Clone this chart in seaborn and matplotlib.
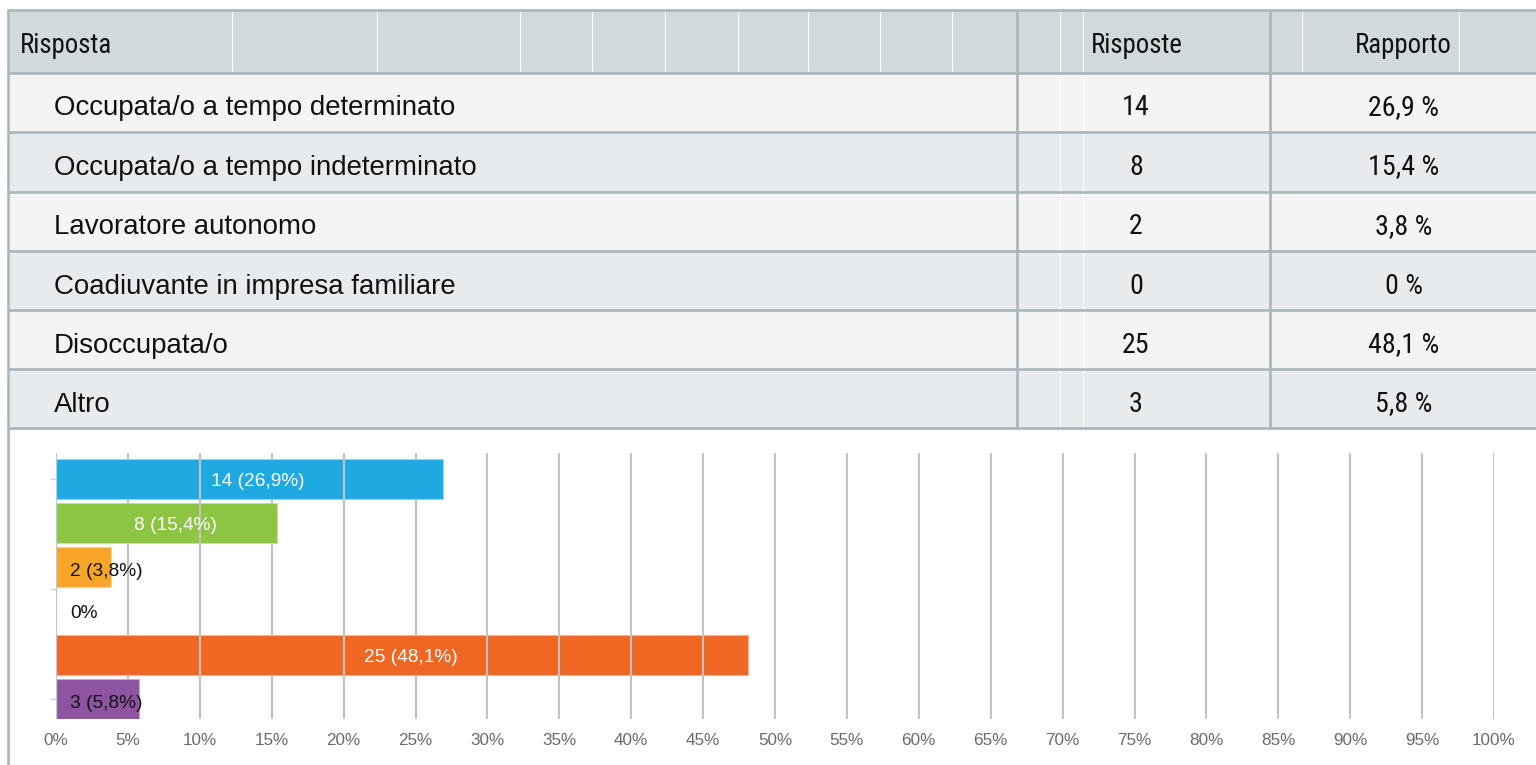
import matplotlib
matplotlib.use("Agg")
import matplotlib.pyplot as plt
from matplotlib import font_manager
from matplotlib.font_manager import FontProperties
from matplotlib.patches import Rectangle
import seaborn as sns
import pandas as pd

# ---- data -------------------------------------------------------------
categories = [
    "Occupata/o a tempo determinato",
    "Occupata/o a tempo indeterminato",
    "Lavoratore autonomo",
    "Coadiuvante in impresa familiare",
    "Disoccupata/o",
    "Altro",
]
counts = [14, 8, 2, 0, 25, 3]
percents = [26.9, 15.4, 3.8, 0.0, 48.1, 5.8]
header_labels = ["Risposta", "Risposte", "Rapporto"]
bar_colors = ["#1fa9e1", "#8bc542", "#f9a527", "#7fb2e5", "#f06724", "#8e54a1"]
x_ticks = list(range(0, 101, 5))
x_tick_labels = [f"{t}%" for t in x_ticks]

# ---- fonts ------------------------------------------------------------
sns.set_style("white")
plt.rcParams["font.family"] = ["Liberation Sans", "DejaVu Sans"]


def pick_condensed():
    """Return the path of an installed condensed sans face, if any."""
    wanted = ["Liberation Sans Narrow", "Roboto Condensed", "Open Sans Condensed",
              "Noto Sans Condensed", "DejaVu Sans Condensed"]
    entries = font_manager.fontManager.ttflist
    for name in wanted:
        for f in entries:
            if f.name == name and f.style == "normal" and f.weight in (400, "normal", "regular"):
                return f.fname
    for f in entries:
        if (f.stretch in ("condensed", "semi-condensed") and f.style == "normal"
                and f.weight in (400, "normal", "regular")):
            return f.fname
    return None


cond_path = pick_condensed()
REG_FP = FontProperties(family="Liberation Sans")
NAR_FP = FontProperties(fname=cond_path) if cond_path else FontProperties(family="Liberation Sans")


def fmt_pct(p, space=""):
    if p == 0:
        return f"0{space}%"
    return f"{p:.1f}".replace(".", ",") + f"{space}%"


W, H = 1536, 765
fig = plt.figure(figsize=(W / 100, H / 100), dpi=100, facecolor="white")
renderer = fig.canvas.get_renderer()


def fit_size(text, fp, target_px, probe=20.0):
    t = fig.text(0, 0, text, fontproperties=fp, fontsize=probe)
    w = t.get_window_extent(renderer=renderer).width
    t.remove()
    return probe * target_px / w


label_size = fit_size(categories[0], REG_FP, 401)
head_size = fit_size(header_labels[1], NAR_FP, 92)
num_size = fit_size(fmt_pct(percents[0], " "), NAR_FP, 71)

# ---- summary table (pixel coordinates) -------------------------------
tab = fig.add_axes([0, 0, 1, 1], zorder=0)
tab.set_xlim(0, W)
tab.set_ylim(H, 0)
tab.axis("off")

border = "#a9b6bb"
header_bg = "#d0d9dc"
row_bg = ["#f4f4f4", "#e8ebed"]
edges = [10, 72.5, 132, 191.5, 251, 310, 369, 428]
left_x, col1_x, col2_x = 8, 1017, 1270

tab.add_patch(Rectangle((left_x, edges[0]), W - left_x, edges[1] - edges[0],
                        facecolor=header_bg, edgecolor="none"))
for i in range(len(categories)):
    top, bot = edges[i + 1], edges[i + 2]
    tab.add_patch(Rectangle((left_x, top), W - left_x, bot - top,
                            facecolor=row_bg[i % 2], edgecolor="none"))

# faint white separators of the page grid
for gx in [232, 377, 520, 592, 665, 738, 808, 880, 952, 1060, 1083, 1302, 1459]:
    tab.plot([gx, gx], [edges[0] + 2, edges[1] - 2], color="white", lw=0.8, alpha=0.9)
for gx in [1060, 1083]:
    tab.plot([gx, gx], [edges[1] + 2, edges[-1] - 2], color="white", lw=0.8, alpha=0.9)

for y in edges:
    tab.plot([left_x, W], [y, y], color=border, lw=1.9, solid_capstyle="butt")
tab.plot([left_x, left_x], [edges[0] - 1, H], color=border, lw=1.9, solid_capstyle="butt")
for x in (col1_x, col2_x):
    tab.plot([x, x], [edges[0], edges[-1]], color=border, lw=1.9, solid_capstyle="butt")

tab.text(20, edges[0] + 43.3, header_labels[0], fontproperties=NAR_FP, fontsize=head_size,
         ha="left", va="baseline", color="#111111")
tab.text(1137, edges[0] + 43.3, header_labels[1], fontproperties=NAR_FP, fontsize=head_size,
         ha="center", va="baseline", color="#111111")
tab.text(1403, edges[0] + 43.3, header_labels[2], fontproperties=NAR_FP, fontsize=head_size,
         ha="center", va="baseline", color="#111111")

for i, (cat, n, p) in enumerate(zip(categories, counts, percents)):
    base = edges[i + 1] + 42.5
    tab.text(54, base, cat, fontproperties=REG_FP, fontsize=label_size, ha="left",
             va="baseline", color="#111111")
    tab.text(1136, base, str(n), fontproperties=NAR_FP, fontsize=num_size, ha="center",
             va="baseline", color="#111111")
    tab.text(1404, base, fmt_pct(p, " "), fontproperties=NAR_FP, fontsize=num_size,
             ha="center", va="baseline", color="#111111")

# ---- horizontal bar chart --------------------------------------------
df = pd.DataFrame({"category": categories, "percent": percents, "count": counts})

ax = fig.add_axes([56 / W, 1 - 719 / H, (1494 - 56) / W, (719 - 453) / H], zorder=1)
ax.patch.set_alpha(0)
sns.barplot(data=df, x="percent", y="category", hue="category", palette=bar_colors,
            orient="h", width=0.9, legend=False, ax=ax, saturation=1)

light_edges = ["#8fd3f0", "#c3e19c", "#fcd292", "#ffffff", "#f7b090", "#c6a8cf"]
for patch, ec in zip(ax.patches, light_edges):
    patch.set_edgecolor(ec)
    patch.set_linewidth(0.8)
    patch.set_zorder(1)

ax.set_xlim(0, 100)
ax.set_ylim(5.45, -0.59)
for s in ax.spines.values():
    s.set_visible(False)

for t in x_ticks:
    if t == 0:
        ax.axvline(t, color="#b9cadb", lw=1.6, zorder=3)
    else:
        z = 0.5 if t in (5, 15, 25) else 3
        ax.axvline(t, color="#c2c2c2", lw=1.5, zorder=z)

ax.set_xticks(x_ticks)
ax.set_xticklabels(x_tick_labels)
ax.tick_params(axis="x", length=0, pad=10, labelsize=12.3, labelcolor="#6b6b6b")
ax.set_yticks([0, 2.5, 5])
ax.set_yticklabels([])
ax.tick_params(axis="y", length=4, width=1, color="#c9d3dc", left=True, pad=2)
ax.set_xlabel("")
ax.set_ylabel("")

for i, (n, p) in enumerate(zip(counts, percents)):
    if n == 0:
        ax.text(1.0, i + 0.05, fmt_pct(p), fontsize=13.8, color="#111111",
                ha="left", va="center", zorder=4)
    elif p >= 10:
        ax.text(p / 2 + 0.6, i + 0.06, f"{n} ({fmt_pct(p)})", fontsize=13.8, color="white",
                ha="center", va="center", zorder=4)
    else:
        ax.text(1.0, i + 0.1, f"{n} ({fmt_pct(p)})", fontsize=13.8, color="#111111",
                ha="left", va="center", zorder=4)

fig.savefig("out.png", dpi=100, facecolor="white")
